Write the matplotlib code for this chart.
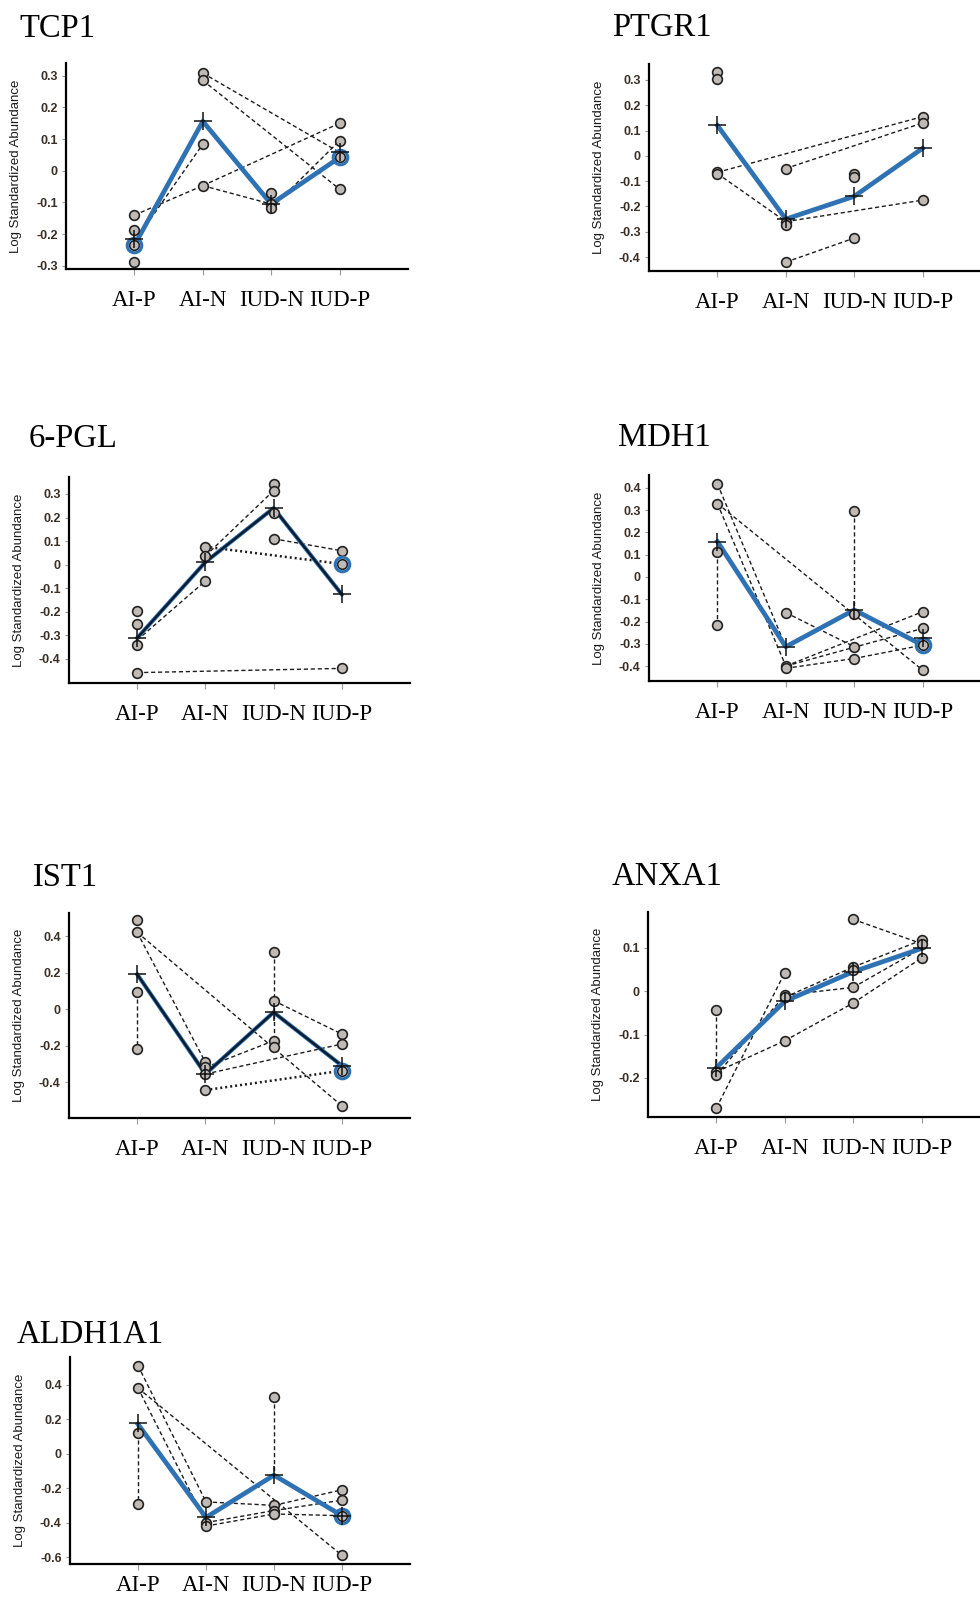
import matplotlib

matplotlib.use("Agg")
import matplotlib.pyplot as plt

plt.rcParams["font.family"] = ["Liberation Sans", "DejaVu Sans"]

groups = ["AI-P", "AI-N", "IUD-N", "IUD-P"]

# --- data ---------------------------------------------------------------
# points: sample values per group; mean: "+" markers; profile: blue line
# links: dashed connections (group_from, value_from, group_to, value_to)

tcp1_points = [[-0.14, -0.188, -0.235, -0.288], [0.308, 0.285, 0.084, -0.047],
               [-0.069, -0.105, -0.119], [0.15, 0.095, 0.042, -0.058]]
tcp1_mean = [-0.216, 0.156, -0.105, 0.058]
tcp1_profile = [-0.235, 0.156, -0.105, 0.042]
tcp1_links = [(0, -0.14, 1, -0.047), (1, -0.047, 2, -0.105), (1, -0.047, 3, 0.15),
              (0, -0.225, 1, 0.084), (1, 0.308, 3, 0.058), (1, 0.285, 3, -0.058),
              (2, -0.119, 3, 0.095)]
tcp1_dotted = []
tcp1_ring = [(0, -0.235), (3, 0.042)]

ptgr1_points = [[0.33, 0.305, -0.065, -0.07], [-0.05, -0.26, -0.275, -0.42],
                [-0.07, -0.085, -0.325], [0.155, 0.13, -0.175]]
ptgr1_mean = [0.12, -0.25, -0.16, 0.03]
ptgr1_profile = [0.12, -0.25, -0.16, 0.03]
ptgr1_links = [(0, -0.065, 3, 0.155), (1, -0.05, 3, 0.13), (0, -0.07, 1, -0.26),
               (1, -0.26, 3, -0.175), (1, -0.42, 2, -0.325)]
ptgr1_dotted = []
ptgr1_ring = []

pgl_points = [[-0.195, -0.253, -0.341, -0.458], [0.076, 0.037, -0.069],
              [0.342, 0.314, 0.219, 0.11], [0.059, 0.003, -0.44]]
pgl_mean = [-0.311, 0.011, 0.24, -0.126]
pgl_profile = [-0.311, 0.011, 0.24, -0.126]
pgl_links = [(0, -0.32, 1, -0.069), (1, 0.037, 2, 0.314), (2, 0.11, 3, 0.059),
             (0, -0.458, 3, -0.44)]
pgl_dotted = [(1, 0.076, 3, 0.003)]
pgl_ring = [(3, 0.003)]

mdh1_points = [[0.418, 0.33, 0.114, -0.216], [-0.16, -0.40, -0.41],
               [0.298, -0.165, -0.313, -0.366], [-0.156, -0.231, -0.306, -0.418]]
mdh1_mean = [0.159, -0.313, -0.148, -0.276]
mdh1_profile = [0.159, -0.313, -0.148, -0.306]
mdh1_links = [(0, 0.114, 0, -0.216), (0, 0.418, 1, -0.313), (0, 0.33, 1, -0.40),
              (0, 0.33, 3, -0.418), (2, 0.298, 2, -0.148), (1, -0.16, 2, -0.313),
              (1, -0.40, 3, -0.156), (1, -0.40, 3, -0.231), (1, -0.41, 2, -0.366),
              (2, -0.366, 3, -0.306)]
mdh1_dotted = []
mdh1_ring = [(3, -0.306)]

ist1_points = [[0.49, 0.42, 0.092, -0.219], [-0.292, -0.32, -0.356, -0.444],
               [0.31, 0.046, -0.174, -0.21], [-0.137, -0.192, -0.338, -0.53]]
ist1_mean = [0.19, -0.356, -0.018, -0.31]
ist1_profile = [0.19, -0.356, -0.018, -0.31]
ist1_links = [(0, 0.092, 0, -0.219), (0, 0.42, 1, -0.292), (0, 0.42, 3, -0.53),
              (2, 0.31, 2, -0.21), (2, 0.046, 3, -0.137), (1, -0.32, 2, -0.174),
              (1, -0.356, 3, -0.192)]
ist1_dotted = [(1, -0.444, 3, -0.338)]
ist1_ring = [(3, -0.338)]

anxa1_points = [[-0.042, -0.186, -0.193, -0.269], [0.043, -0.009, -0.014, -0.114],
                [0.166, 0.056, 0.05, 0.009, -0.027], [0.118, 0.11, 0.077]]
anxa1_mean = [-0.176, -0.023, 0.045, 0.099]
anxa1_profile = [-0.176, -0.023, 0.045, 0.099]
anxa1_links = [(0, -0.042, 0, -0.176), (0, -0.269, 1, 0.043), (0, -0.186, 1, -0.114),
               (0, -0.193, 1, -0.009), (1, -0.114, 2, -0.027), (1, -0.009, 2, 0.009),
               (1, -0.014, 2, 0.056), (2, 0.056, 3, 0.118), (2, 0.166, 3, 0.11),
               (2, -0.027, 3, 0.077), (2, 0.009, 3, 0.099)]
anxa1_dotted = []
anxa1_ring = []

aldh_points = [[0.51, 0.38, 0.12, -0.29], [-0.28, -0.40, -0.42],
               [0.33, -0.30, -0.33, -0.35], [-0.21, -0.27, -0.36, -0.59]]
aldh_mean = [0.175, -0.37, -0.125, -0.36]
aldh_profile = [0.17, -0.37, -0.125, -0.36]
aldh_links = [(0, 0.12, 0, -0.29), (0, 0.51, 1, -0.28), (0, 0.38, 1, -0.40),
              (0, 0.38, 3, -0.59), (2, 0.33, 2, -0.125), (1, -0.28, 2, -0.30),
              (1, -0.40, 2, -0.33), (1, -0.42, 2, -0.35), (2, -0.30, 3, -0.21),
              (2, -0.33, 3, -0.27), (2, -0.35, 3, -0.36)]
aldh_dotted = []
aldh_ring = [(3, -0.36)]

BLUE = "#2f72b4"
W, H = 980, 1603

# title, data, yticks, ylim, axes box in pixels (left, right, top, bottom),
# title pos, dark line, x label pad
panels = [
    ("TCP1", (tcp1_points, tcp1_mean, tcp1_profile, tcp1_links, tcp1_dotted, tcp1_ring),
     [-0.3, -0.2, -0.1, 0, 0.1, 0.2, 0.3], (-0.31, 0.34), (66, 408, 63, 269), (19, 37), False, 11),
    ("PTGR1", (ptgr1_points, ptgr1_mean, ptgr1_profile, ptgr1_links, ptgr1_dotted, ptgr1_ring),
     [-0.4, -0.3, -0.2, -0.1, 0, 0.1, 0.2, 0.3], (-0.455, 0.363), (649, 991, 64, 271), (612, 36), False, 11),
    ("6-PGL", (pgl_points, pgl_mean, pgl_profile, pgl_links, pgl_dotted, pgl_ring),
     [-0.4, -0.3, -0.2, -0.1, 0, 0.1, 0.2, 0.3], (-0.502, 0.372), (69, 410, 477, 683), (29, 447), True, 11),
    ("MDH1", (mdh1_points, mdh1_mean, mdh1_profile, mdh1_links, mdh1_dotted, mdh1_ring),
     [-0.4, -0.3, -0.2, -0.1, 0, 0.1, 0.2, 0.3, 0.4], (-0.467, 0.458), (649, 991, 475, 681), (618, 446), False, 11),
    ("IST1", (ist1_points, ist1_mean, ist1_profile, ist1_links, ist1_dotted, ist1_ring),
     [-0.4, -0.2, 0, 0.2, 0.4], (-0.597, 0.526), (69, 410, 913, 1118), (33, 886), True, 11),
    ("ANXA1", (anxa1_points, anxa1_mean, anxa1_profile, anxa1_links, anxa1_dotted, anxa1_ring),
     [-0.2, -0.1, 0, 0.1], (-0.29, 0.183), (648, 990, 912, 1117), (612, 885), False, 11),
    ("ALDH1A1", (aldh_points, aldh_mean, aldh_profile, aldh_links, aldh_dotted, aldh_ring),
     [-0.6, -0.4, -0.2, 0, 0.2, 0.4], (-0.64, 0.56), (70, 410, 1357, 1564), (17, 1343), False, 4),
]


def fmt(v):
    return "0" if abs(v) < 1e-9 else f"{v:g}"


def draw(ax, data, dark):
    points, mean, profile, links, dotted, ring = data
    for g1, v1, g2, v2 in links:
        ax.plot([g1 + 1, g2 + 1], [v1, v2], ls=(0, (3, 2)), color="#1c1c1c", lw=1.0, zorder=2)
    for g1, v1, g2, v2 in dotted:
        ax.plot([g1 + 1, g2 + 1], [v1, v2], ls=(0, (0.8, 1.2)), color="#1c1c1c", lw=1.8, zorder=2)
    x = [1, 2, 3, 4]
    ax.plot(x, profile, color=BLUE, lw=3.4 if not dark else 3.0, zorder=3)
    if dark:
        ax.plot(x, profile, color="#0c1a2a", lw=1.7, zorder=3.1)
    for i, vals in enumerate(points):
        ax.plot([i + 1] * len(vals), vals, "o", ms=7, mfc="#bfbab5", mec="#222222",
                mew=1.2, ls="none", zorder=4)
    for g, v in ring:
        ax.plot(g + 1, v, "o", ms=10.5, mfc="none", mec=BLUE, mew=2.2, zorder=4.5)
    ax.plot(x, mean, "+", ms=13, mew=1.1, color="#111111", ls="none", zorder=5)


def main():
    fig = plt.figure(figsize=(W / 100, H / 100), dpi=100)

    for title, data, yticks, ylim, box, tpos, dark, xpad in panels:
        left, right, top, bottom = box
        ax = fig.add_axes([left / W, 1 - bottom / H, (right - left) / W, (bottom - top) / H])
        draw(ax, data, dark)

        ax.set_xlim(0, 5)
        ax.set_ylim(*ylim)
        ax.set_xticks([1, 2, 3, 4])
        ax.set_xticklabels(groups, family="Liberation Serif", fontsize=16.5)
        ax.set_yticks(yticks)
        ax.set_yticklabels([fmt(v) for v in yticks], fontsize=9, fontweight="bold",
                           color="#3a2f26")
        ax.tick_params(axis="x", length=4, width=0.8, color="#9a9a9a", pad=xpad)
        ax.tick_params(axis="y", length=3, width=0.8, color="#9a9a9a", pad=3)

        for s in ("top", "right"):
            ax.spines[s].set_visible(False)
        for s in ("left", "bottom"):
            ax.spines[s].set_linewidth(1.6)
            ax.spines[s].set_color("black")

        ax.text(-50 / (right - left), 0.5, "Log Standardized Abundance", transform=ax.transAxes,
                rotation=90, ha="center", va="center", fontsize=9.5, color="#1a1a1a")

        fig.text(tpos[0] / W, 1 - tpos[1] / H, title, family="Liberation Serif",
                 fontsize=23.5, ha="left", va="baseline")

    fig.savefig("out.png", dpi=100)
    plt.close(fig)


if __name__ == "__main__":
    main()
